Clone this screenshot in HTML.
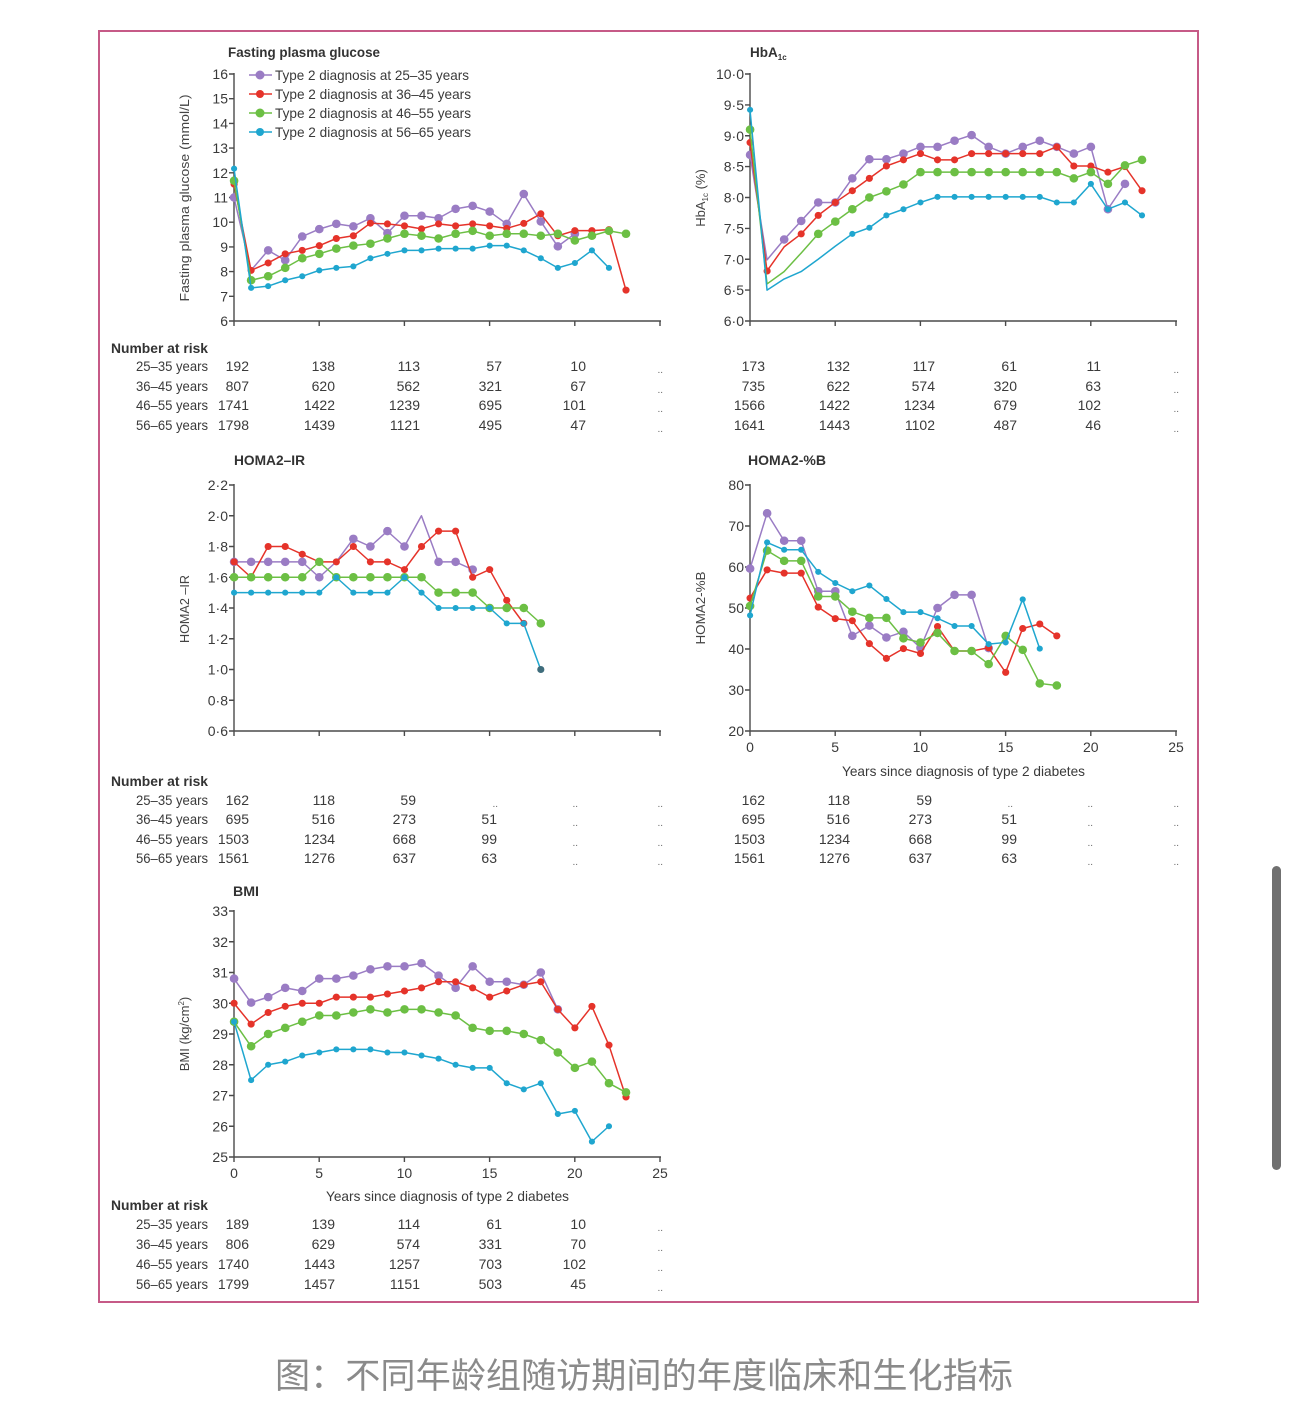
<!DOCTYPE html>
<html>
<head>
<meta charset="utf-8">
<style>
html,body{margin:0;padding:0;background:#fff;}
body{width:1290px;height:1414px;overflow:hidden;}
svg{display:block;}
text{font-family:"Liberation Sans",sans-serif;fill:#3a3a3a;}
.tk{font-size:14px;text-anchor:end;}
.xl{font-size:14px;text-anchor:middle;}
.n{font-size:14px;text-anchor:end;}
.rl{font-size:14px;text-anchor:end;}
.dd{font-size:10px;text-anchor:end;fill:#666;}
.tt{font-size:13.5px;font-weight:bold;fill:#333;}
.nr{font-size:14px;font-weight:bold;fill:#333;}
.yl{font-size:13px;text-anchor:middle;fill:#444;}
.ax{stroke:#4a4a4a;stroke-width:1.4;fill:none;}
.ln{fill:none;stroke-width:1.5;vector-effect:non-scaling-stroke;stroke-linejoin:round;}
.dt{fill:none;stroke-linecap:round;vector-effect:non-scaling-stroke;}
.p{stroke:#9a7cc4;} .r{stroke:#e5332a;} .g{stroke:#6cbf44;} .c{stroke:#1fa6cf;}
.dt.p{stroke-width:8.5;} .dt.g{stroke-width:8.5;} .dt.r{stroke-width:7;} .dt.c{stroke-width:6;}
</style>
</head>
<body>
<svg width="1290" height="1414" viewBox="0 0 1290 1414" xmlns="http://www.w3.org/2000/svg">
<rect x="0" y="0" width="1290" height="1414" fill="#fff"/>
<!-- frame -->
<rect x="99" y="31" width="1099" height="1271" fill="none" stroke="#c65a87" stroke-width="2"/>
<!-- scrollbar -->
<rect x="1272" y="866" width="9" height="304" rx="4.5" fill="#707070"/>

<!-- ============ FPG ============ -->
<text class="tt" x="228" y="57" textLength="152" lengthAdjust="spacingAndGlyphs">Fasting plasma glucose</text>
<text class="yl" transform="translate(189,198) rotate(-90)" textLength="207" lengthAdjust="spacingAndGlyphs">Fasting plasma glucose  (mmol/L)</text>
<path class="ax" d="M234 73V321H661M229 74H234M229 98.7H234M229 123.4H234M229 148.1H234M229 172.8H234M229 197.5H234M229 222.2H234M229 246.9H234M229 271.6H234M229 296.3H234M229 321H234M234 321V326M319.2 321V326M404.4 321V326M489.6 321V326M574.8 321V326M660 321V326"/>
<text class="tk" x="228" y="79">16</text>
<text class="tk" x="228" y="103.7">15</text>
<text class="tk" x="228" y="128.4">14</text>
<text class="tk" x="228" y="153.1">13</text>
<text class="tk" x="228" y="177.8">12</text>
<text class="tk" x="228" y="202.5">11</text>
<text class="tk" x="228" y="227.2">10</text>
<text class="tk" x="228" y="251.9">9</text>
<text class="tk" x="228" y="276.6">8</text>
<text class="tk" x="228" y="301.3">7</text>
<text class="tk" x="228" y="326">6</text>
<!-- legend -->
<line x1="249" y1="75" x2="272" y2="75" class="p" stroke-width="1.5"/><circle cx="260" cy="75" r="4.5" fill="#9a7cc4"/>
<line x1="249" y1="94" x2="272" y2="94" class="r" stroke-width="1.5"/><circle cx="260" cy="94" r="4" fill="#e5332a"/>
<line x1="249" y1="113" x2="272" y2="113" class="g" stroke-width="1.5"/><circle cx="260" cy="113" r="4.5" fill="#6cbf44"/>
<line x1="249" y1="132" x2="272" y2="132" class="c" stroke-width="1.5"/><circle cx="260" cy="132" r="4" fill="#1fa6cf"/>
<text x="275" y="80" font-size="14" textLength="194" lengthAdjust="spacingAndGlyphs">Type 2 diagnosis at 25–35 years</text>
<text x="275" y="99" font-size="14" textLength="196" lengthAdjust="spacingAndGlyphs">Type 2 diagnosis at 36–45 years</text>
<text x="275" y="118" font-size="14" textLength="196" lengthAdjust="spacingAndGlyphs">Type 2 diagnosis at 46–55 years</text>
<text x="275" y="137" font-size="14" textLength="196" lengthAdjust="spacingAndGlyphs">Type 2 diagnosis at 56–65 years</text>
<g transform="matrix(17.04 0 0 -24.7 234 469.2)">
<polyline class="ln p" points="0,11 1,8.05 2,8.86 3,8.46 4,9.42 5,9.72 6,9.93 7,9.83 8,10.16 9,9.56 10,10.26 11,10.26 12,10.16 13,10.54 14,10.66 15,10.43 16,9.93 17,11.14 18,10.03 19,9.02 20,9.53"/>
<path class="dt p" d="M0 11h.01M2 8.86h.01M3 8.46h.01M4 9.42h.01M5 9.72h.01M6 9.93h.01M7 9.83h.01M8 10.16h.01M9 9.56h.01M10 10.26h.01M11 10.26h.01M12 10.16h.01M13 10.54h.01M14 10.66h.01M15 10.43h.01M16 9.93h.01M17 11.14h.01M18 10.03h.01M19 9.02h.01M20 9.53h.01"/>
<polyline class="ln r" points="0,11.54 1,8.05 2,8.35 3,8.72 4,8.86 5,9.05 6,9.34 7,9.45 8,9.96 9,9.93 10,9.85 11,9.73 12,9.93 13,9.85 14,9.93 15,9.85 16,9.75 17,9.95 18,10.34 19,9.45 20,9.66 21,9.66 22,9.7 23,7.25"/>
<path class="dt r" d="M0 11.54h.01M1 8.05h.01M2 8.35h.01M3 8.72h.01M4 8.86h.01M5 9.05h.01M6 9.34h.01M7 9.45h.01M8 9.96h.01M9 9.93h.01M10 9.85h.01M11 9.73h.01M12 9.93h.01M13 9.85h.01M14 9.93h.01M15 9.85h.01M16 9.75h.01M17 9.95h.01M18 10.34h.01M19 9.45h.01M20 9.66h.01M21 9.66h.01M22 9.7h.01M23 7.25h.01"/>
<polyline class="ln g" points="0,11.68 1,7.65 2,7.81 3,8.15 4,8.54 5,8.72 6,8.93 7,9.05 8,9.13 9,9.34 10,9.53 11,9.45 12,9.34 13,9.53 14,9.65 15,9.45 16,9.53 17,9.53 18,9.45 19,9.53 20,9.26 21,9.45 22,9.65 23,9.53"/>
<path class="dt g" d="M0 11.68h.01M1 7.65h.01M2 7.81h.01M3 8.15h.01M4 8.54h.01M5 8.72h.01M6 8.93h.01M7 9.05h.01M8 9.13h.01M9 9.34h.01M10 9.53h.01M11 9.45h.01M12 9.34h.01M13 9.53h.01M14 9.65h.01M15 9.45h.01M16 9.53h.01M17 9.53h.01M18 9.45h.01M19 9.53h.01M20 9.26h.01M21 9.45h.01M22 9.65h.01M23 9.53h.01"/>
<polyline class="ln c" points="0,12.17 1,7.34 2,7.41 3,7.65 4,7.81 5,8.05 6,8.15 7,8.21 8,8.54 9,8.72 10,8.86 11,8.86 12,8.93 13,8.93 14,8.93 15,9.05 16,9.05 17,8.86 18,8.54 19,8.15 20,8.35 21,8.86 22,8.15"/>
<path class="dt c" d="M0 12.17h.01M1 7.34h.01M2 7.41h.01M3 7.65h.01M4 7.81h.01M5 8.05h.01M6 8.15h.01M7 8.21h.01M8 8.54h.01M9 8.72h.01M10 8.86h.01M11 8.86h.01M12 8.93h.01M13 8.93h.01M14 8.93h.01M15 9.05h.01M16 9.05h.01M17 8.86h.01M18 8.54h.01M19 8.15h.01M20 8.35h.01M21 8.86h.01M22 8.15h.01"/>
</g>

<!-- ============ HbA1c ============ -->
<text class="tt" x="750" y="57">HbA<tspan font-size="8" dy="3">1c</tspan></text>
<text class="yl" transform="translate(705,198) rotate(-90)">HbA<tspan font-size="8" dy="3">1c</tspan><tspan dy="-3"> (%)</tspan></text>
<path class="ax" d="M750 73V321H1177M745 74H750M745 104.9H750M745 135.75H750M745 166.6H750M745 197.5H750M745 228.4H750M745 259.25H750M745 290.1H750M745 321H750M750 321V326M835.2 321V326M920.4 321V326M1005.6 321V326M1090.8 321V326M1176 321V326"/>
<text class="tk" x="744" y="79">10·0</text>
<text class="tk" x="744" y="109.9">9·5</text>
<text class="tk" x="744" y="140.75">9·0</text>
<text class="tk" x="744" y="171.6">8·5</text>
<text class="tk" x="744" y="202.5">8·0</text>
<text class="tk" x="744" y="233.4">7·5</text>
<text class="tk" x="744" y="264.25">7·0</text>
<text class="tk" x="744" y="295.1">6·5</text>
<text class="tk" x="744" y="326">6·0</text>
<g transform="matrix(17.04 0 0 -61.75 750 691.5)">
<polyline class="ln p" points="0,8.69 1,6.99 2,7.32 3,7.62 4,7.92 5,7.92 6,8.31 7,8.62 8,8.62 9,8.71 10,8.82 11,8.82 12,8.92 13,9.01 14,8.82 15,8.71 16,8.82 17,8.92 18,8.82 19,8.71 20,8.82 21,7.81 22,8.22"/>
<path class="dt p" d="M0 8.69h.01M2 7.32h.01M3 7.62h.01M4 7.92h.01M5 7.92h.01M6 8.31h.01M7 8.62h.01M8 8.62h.01M9 8.71h.01M10 8.82h.01M11 8.82h.01M12 8.92h.01M13 9.01h.01M14 8.82h.01M15 8.71h.01M16 8.82h.01M17 8.92h.01M18 8.82h.01M19 8.71h.01M20 8.82h.01M21 7.81h.01M22 8.22h.01"/>
<polyline class="ln r" points="0,8.89 1,6.81 2,7.2 3,7.41 4,7.71 5,7.92 6,8.11 7,8.31 8,8.51 9,8.61 10,8.71 11,8.61 12,8.61 13,8.71 14,8.71 15,8.71 16,8.71 17,8.71 18,8.82 19,8.51 20,8.51 21,8.41 22,8.5 23,8.11"/>
<path class="dt r" d="M0 8.89h.01M1 6.81h.01M3 7.41h.01M4 7.71h.01M5 7.92h.01M6 8.11h.01M7 8.31h.01M8 8.51h.01M9 8.61h.01M10 8.71h.01M11 8.61h.01M12 8.61h.01M13 8.71h.01M14 8.71h.01M15 8.71h.01M16 8.71h.01M17 8.71h.01M18 8.82h.01M19 8.51h.01M20 8.51h.01M21 8.41h.01M22 8.5h.01M23 8.11h.01"/>
<polyline class="ln g" points="0,9.1 1,6.6 2,6.8 3,7.1 4,7.41 5,7.61 6,7.81 7,8.0 8,8.1 9,8.21 10,8.41 11,8.41 12,8.41 13,8.41 14,8.41 15,8.41 16,8.41 17,8.41 18,8.41 19,8.31 20,8.41 21,8.22 22,8.52 23,8.61"/>
<path class="dt g" d="M0 9.1h.01M4 7.41h.01M5 7.61h.01M6 7.81h.01M7 8.0h.01M8 8.1h.01M9 8.21h.01M10 8.41h.01M11 8.41h.01M12 8.41h.01M13 8.41h.01M14 8.41h.01M15 8.41h.01M16 8.41h.01M17 8.41h.01M18 8.41h.01M19 8.31h.01M20 8.41h.01M21 8.22h.01M22 8.52h.01M23 8.61h.01"/>
<polyline class="ln c" points="0,9.42 1,6.5 2,6.68 3,6.8 4,7.0 5,7.21 6,7.41 7,7.51 8,7.71 9,7.81 10,7.92 11,8.01 12,8.01 13,8.01 14,8.01 15,8.01 16,8.01 17,8.01 18,7.92 19,7.92 20,8.22 21,7.81 22,7.92 23,7.71"/>
<path class="dt c" d="M0 9.42h.01M6 7.41h.01M7 7.51h.01M8 7.71h.01M9 7.81h.01M10 7.92h.01M11 8.01h.01M12 8.01h.01M13 8.01h.01M14 8.01h.01M15 8.01h.01M16 8.01h.01M17 8.01h.01M18 7.92h.01M19 7.92h.01M20 8.22h.01M21 7.81h.01M22 7.92h.01M23 7.71h.01"/>
</g>

<!-- ============ Table 1 ============ -->
<text class="nr" x="111" y="353" textLength="97" lengthAdjust="spacingAndGlyphs">Number at risk</text>
<text class="rl" x="208" y="371" textLength="72" lengthAdjust="spacingAndGlyphs">25–35 years</text>
<text class="rl" x="208" y="391" textLength="72" lengthAdjust="spacingAndGlyphs">36–45 years</text>
<text class="rl" x="208" y="410" textLength="72" lengthAdjust="spacingAndGlyphs">46–55 years</text>
<text class="rl" x="208" y="430" textLength="72" lengthAdjust="spacingAndGlyphs">56–65 years</text>
<g>
<text class="n" x="249" y="371">192</text><text class="n" x="335" y="371">138</text><text class="n" x="420" y="371">113</text><text class="n" x="502" y="371">57</text><text class="n" x="586" y="371">10</text><text class="dd" x="663" y="373">..</text>
<text class="n" x="249" y="391">807</text><text class="n" x="335" y="391">620</text><text class="n" x="420" y="391">562</text><text class="n" x="502" y="391">321</text><text class="n" x="586" y="391">67</text><text class="dd" x="663" y="393">..</text>
<text class="n" x="249" y="410">1741</text><text class="n" x="335" y="410">1422</text><text class="n" x="420" y="410">1239</text><text class="n" x="502" y="410">695</text><text class="n" x="586" y="410">101</text><text class="dd" x="663" y="412">..</text>
<text class="n" x="249" y="430">1798</text><text class="n" x="335" y="430">1439</text><text class="n" x="420" y="430">1121</text><text class="n" x="502" y="430">495</text><text class="n" x="586" y="430">47</text><text class="dd" x="663" y="432">..</text>
</g>
<g>
<text class="n" x="765" y="371">173</text><text class="n" x="850" y="371">132</text><text class="n" x="935" y="371">117</text><text class="n" x="1017" y="371">61</text><text class="n" x="1101" y="371">11</text><text class="dd" x="1179" y="373">..</text>
<text class="n" x="765" y="391">735</text><text class="n" x="850" y="391">622</text><text class="n" x="935" y="391">574</text><text class="n" x="1017" y="391">320</text><text class="n" x="1101" y="391">63</text><text class="dd" x="1179" y="393">..</text>
<text class="n" x="765" y="410">1566</text><text class="n" x="850" y="410">1422</text><text class="n" x="935" y="410">1234</text><text class="n" x="1017" y="410">679</text><text class="n" x="1101" y="410">102</text><text class="dd" x="1179" y="412">..</text>
<text class="n" x="765" y="430">1641</text><text class="n" x="850" y="430">1443</text><text class="n" x="935" y="430">1102</text><text class="n" x="1017" y="430">487</text><text class="n" x="1101" y="430">46</text><text class="dd" x="1179" y="432">..</text>
</g>

<!-- ============ HOMA2-IR ============ -->
<text class="tt" x="234" y="465" textLength="71" lengthAdjust="spacingAndGlyphs">HOMA2–IR</text>
<text class="yl" transform="translate(189,609) rotate(-90)" textLength="68" lengthAdjust="spacingAndGlyphs">HOMA2 –IR</text>
<path class="ax" d="M234 484V731H661M229 485H234M229 515.75H234M229 546.5H234M229 577.25H234M229 608H234M229 638.75H234M229 669.5H234M229 700.25H234M229 731H234M234 731V736M319.2 731V736M404.4 731V736M489.6 731V736M574.8 731V736M660 731V736"/>
<text class="tk" x="228" y="490">2·2</text>
<text class="tk" x="228" y="520.75">2·0</text>
<text class="tk" x="228" y="551.5">1·8</text>
<text class="tk" x="228" y="582.25">1·6</text>
<text class="tk" x="228" y="613">1·4</text>
<text class="tk" x="228" y="643.75">1·2</text>
<text class="tk" x="228" y="674.5">1·0</text>
<text class="tk" x="228" y="705.25">0·8</text>
<text class="tk" x="228" y="736">0·6</text>
<g transform="matrix(17.04 0 0 -153.75 234 823.25)">
<polyline class="ln p" points="0,1.7 1,1.7 2,1.7 3,1.7 4,1.7 5,1.6 6,1.7 7,1.85 8,1.8 9,1.9 10,1.8 11,2.0 12,1.7 13,1.7 14,1.65"/>
<path class="dt p" d="M0 1.7h.01M1 1.7h.01M2 1.7h.01M3 1.7h.01M4 1.7h.01M5 1.6h.01M7 1.85h.01M8 1.8h.01M9 1.9h.01M10 1.8h.01M12 1.7h.01M13 1.7h.01M14 1.65h.01"/>
<polyline class="ln r" points="0,1.7 1,1.6 2,1.8 3,1.8 4,1.75 5,1.7 6,1.7 7,1.8 8,1.7 9,1.7 10,1.65 11,1.8 12,1.9 13,1.9 14,1.6 15,1.65 16,1.45 17,1.3"/>
<path class="dt r" d="M0 1.7h.01M1 1.6h.01M2 1.8h.01M3 1.8h.01M4 1.75h.01M5 1.7h.01M6 1.7h.01M7 1.8h.01M8 1.7h.01M9 1.7h.01M10 1.65h.01M11 1.8h.01M12 1.9h.01M13 1.9h.01M14 1.6h.01M15 1.65h.01M16 1.45h.01M17 1.3h.01"/>
<polyline class="ln g" points="0,1.6 1,1.6 2,1.6 3,1.6 4,1.6 5,1.7 6,1.6 7,1.6 8,1.6 9,1.6 10,1.6 11,1.6 12,1.5 13,1.5 14,1.5 15,1.4 16,1.4 17,1.4 18,1.3"/>
<path class="dt g" d="M0 1.6h.01M1 1.6h.01M2 1.6h.01M3 1.6h.01M4 1.6h.01M5 1.7h.01M6 1.6h.01M7 1.6h.01M8 1.6h.01M9 1.6h.01M10 1.6h.01M11 1.6h.01M12 1.5h.01M13 1.5h.01M14 1.5h.01M15 1.4h.01M16 1.4h.01M17 1.4h.01M18 1.3h.01"/>
<polyline class="ln c" points="0,1.5 1,1.5 2,1.5 3,1.5 4,1.5 5,1.5 6,1.6 7,1.5 8,1.5 9,1.5 10,1.6 11,1.5 12,1.4 13,1.4 14,1.4 15,1.4 16,1.3 17,1.3 18,1.0"/>
<path class="dt c" d="M0 1.5h.01M1 1.5h.01M2 1.5h.01M3 1.5h.01M4 1.5h.01M5 1.5h.01M6 1.6h.01M7 1.5h.01M8 1.5h.01M9 1.5h.01M10 1.6h.01M11 1.5h.01M12 1.4h.01M13 1.4h.01M14 1.4h.01M15 1.4h.01M16 1.3h.01M17 1.3h.01"/>
<path class="dt" style="stroke:#3f6d7c;stroke-width:7" d="M18 1.0h.01"/>
</g>

<!-- ============ HOMA2-%B ============ -->
<text class="tt" x="748" y="465" textLength="78" lengthAdjust="spacingAndGlyphs">HOMA2-%B</text>
<text class="yl" transform="translate(705,608) rotate(-90)" textLength="73" lengthAdjust="spacingAndGlyphs">HOMA2-%B</text>
<path class="ax" d="M750 484V731H1177M745 485H750M745 526H750M745 567H750M745 608H750M745 649H750M745 690H750M745 731H750M750 731V736M835.2 731V736M920.4 731V736M1005.6 731V736M1090.8 731V736M1176 731V736"/>
<text class="tk" x="744" y="490">80</text>
<text class="tk" x="744" y="531">70</text>
<text class="tk" x="744" y="572">60</text>
<text class="tk" x="744" y="613">50</text>
<text class="tk" x="744" y="654">40</text>
<text class="tk" x="744" y="695">30</text>
<text class="tk" x="744" y="736">20</text>
<text class="xl" x="750" y="752">0</text>
<text class="xl" x="835.2" y="752">5</text>
<text class="xl" x="920.4" y="752">10</text>
<text class="xl" x="1005.6" y="752">15</text>
<text class="xl" x="1090.8" y="752">20</text>
<text class="xl" x="1176" y="752">25</text>
<text x="842" y="776" font-size="14" textLength="243" lengthAdjust="spacingAndGlyphs">Years since diagnosis of type 2 diabetes</text>
<g transform="matrix(17.04 0 0 -4.1 750 813)">
<polyline class="ln p" points="0,59.6 1,73.1 2,66.4 3,66.4 4,54.1 5,54.1 6,43.2 7,45.7 8,42.8 9,44.2 10,40.3 11,50 12,53.2 13,53.2 14,40.2"/>
<path class="dt p" d="M0 59.6h.01M1 73.1h.01M2 66.4h.01M3 66.4h.01M4 54.1h.01M5 54.1h.01M6 43.2h.01M7 45.7h.01M8 42.8h.01M9 44.2h.01M10 40.3h.01M11 50h.01M12 53.2h.01M13 53.2h.01M14 40.2h.01"/>
<polyline class="ln r" points="0,52.4 1,59.3 2,58.5 3,58.5 4,50.2 5,47.4 6,46.9 7,41.3 8,37.7 9,40.1 10,38.9 11,45.5 12,39.5 13,39.5 14,40.3 15,34.3 16,45 17,46.1 18,43.2"/>
<path class="dt r" d="M0 52.4h.01M1 59.3h.01M2 58.5h.01M3 58.5h.01M4 50.2h.01M5 47.4h.01M6 46.9h.01M7 41.3h.01M8 37.7h.01M9 40.1h.01M10 38.9h.01M11 45.5h.01M12 39.5h.01M13 39.5h.01M14 40.3h.01M15 34.3h.01M16 45h.01M17 46.1h.01M18 43.2h.01"/>
<polyline class="ln g" points="0,50.5 1,64 2,61.5 3,61.5 4,52.8 5,52.8 6,49.1 7,47.6 8,47.6 9,42.6 10,41.6 11,43.9 12,39.5 13,39.5 14,36.3 15,43.2 16,39.8 17,31.6 18,31.1"/>
<path class="dt g" d="M0 50.5h.01M1 64h.01M2 61.5h.01M3 61.5h.01M4 52.8h.01M5 52.8h.01M6 49.1h.01M7 47.6h.01M8 47.6h.01M9 42.6h.01M10 41.6h.01M11 43.9h.01M12 39.5h.01M13 39.5h.01M14 36.3h.01M15 43.2h.01M16 39.8h.01M17 31.6h.01M18 31.1h.01"/>
<polyline class="ln c" points="0,48.2 1,66 2,64.2 3,64.2 4,58.8 5,56.1 6,54.1 7,55.5 8,52.2 9,49 10,49 11,47.5 12,45.6 13,45.6 14,41.2 15,41.6 16,52.1 17,40.1"/>
<path class="dt c" d="M0 48.2h.01M1 66h.01M2 64.2h.01M3 64.2h.01M4 58.8h.01M5 56.1h.01M6 54.1h.01M7 55.5h.01M8 52.2h.01M9 49h.01M10 49h.01M11 47.5h.01M12 45.6h.01M13 45.6h.01M14 41.2h.01M15 41.6h.01M16 52.1h.01M17 40.1h.01"/>
</g>

<!-- ============ Table 2 ============ -->
<text class="nr" x="111" y="786" textLength="97" lengthAdjust="spacingAndGlyphs">Number at risk</text>
<text class="rl" x="208" y="805" textLength="72" lengthAdjust="spacingAndGlyphs">25–35 years</text>
<text class="rl" x="208" y="824" textLength="72" lengthAdjust="spacingAndGlyphs">36–45 years</text>
<text class="rl" x="208" y="844" textLength="72" lengthAdjust="spacingAndGlyphs">46–55 years</text>
<text class="rl" x="208" y="863" textLength="72" lengthAdjust="spacingAndGlyphs">56–65 years</text>
<g>
<text class="n" x="249" y="805">162</text><text class="n" x="335" y="805">118</text><text class="n" x="416" y="805">59</text><text class="dd" x="498" y="807">..</text><text class="dd" x="578" y="807">..</text><text class="dd" x="663" y="807">..</text>
<text class="n" x="249" y="824">695</text><text class="n" x="335" y="824">516</text><text class="n" x="416" y="824">273</text><text class="n" x="497" y="824">51</text><text class="dd" x="578" y="826">..</text><text class="dd" x="663" y="826">..</text>
<text class="n" x="249" y="844">1503</text><text class="n" x="335" y="844">1234</text><text class="n" x="416" y="844">668</text><text class="n" x="497" y="844">99</text><text class="dd" x="578" y="846">..</text><text class="dd" x="663" y="846">..</text>
<text class="n" x="249" y="863">1561</text><text class="n" x="335" y="863">1276</text><text class="n" x="416" y="863">637</text><text class="n" x="497" y="863">63</text><text class="dd" x="578" y="865">..</text><text class="dd" x="663" y="865">..</text>
</g>
<g>
<text class="n" x="765" y="805">162</text><text class="n" x="850" y="805">118</text><text class="n" x="932" y="805">59</text><text class="dd" x="1013" y="807">..</text><text class="dd" x="1093" y="807">..</text><text class="dd" x="1179" y="807">..</text>
<text class="n" x="765" y="824">695</text><text class="n" x="850" y="824">516</text><text class="n" x="932" y="824">273</text><text class="n" x="1017" y="824">51</text><text class="dd" x="1093" y="826">..</text><text class="dd" x="1179" y="826">..</text>
<text class="n" x="765" y="844">1503</text><text class="n" x="850" y="844">1234</text><text class="n" x="932" y="844">668</text><text class="n" x="1017" y="844">99</text><text class="dd" x="1093" y="846">..</text><text class="dd" x="1179" y="846">..</text>
<text class="n" x="765" y="863">1561</text><text class="n" x="850" y="863">1276</text><text class="n" x="932" y="863">637</text><text class="n" x="1017" y="863">63</text><text class="dd" x="1093" y="865">..</text><text class="dd" x="1179" y="865">..</text>
</g>

<!-- ============ BMI ============ -->
<text class="tt" x="233" y="896" textLength="26" lengthAdjust="spacingAndGlyphs">BMI</text>
<text class="yl" transform="translate(189,1034) rotate(-90)">BMI (kg/cm<tspan font-size="8" dy="-5">2</tspan><tspan dy="5">)</tspan></text>
<path class="ax" d="M234 910V1157H661M229 911H234M229 941.75H234M229 972.5H234M229 1003.25H234M229 1034H234M229 1064.75H234M229 1095.5H234M229 1126.25H234M229 1157H234M234 1157V1162M319.2 1157V1162M404.4 1157V1162M489.6 1157V1162M574.8 1157V1162M660 1157V1162"/>
<text class="tk" x="228" y="916">33</text>
<text class="tk" x="228" y="946.75">32</text>
<text class="tk" x="228" y="977.5">31</text>
<text class="tk" x="228" y="1008.25">30</text>
<text class="tk" x="228" y="1039">29</text>
<text class="tk" x="228" y="1069.75">28</text>
<text class="tk" x="228" y="1100.5">27</text>
<text class="tk" x="228" y="1131.25">26</text>
<text class="tk" x="228" y="1162">25</text>
<text class="xl" x="234" y="1178">0</text>
<text class="xl" x="319.2" y="1178">5</text>
<text class="xl" x="404.4" y="1178">10</text>
<text class="xl" x="489.6" y="1178">15</text>
<text class="xl" x="574.8" y="1178">20</text>
<text class="xl" x="660" y="1178">25</text>
<text x="326" y="1201" font-size="14" textLength="243" lengthAdjust="spacingAndGlyphs">Years since diagnosis of type 2 diabetes</text>
<g transform="matrix(17.04 0 0 -30.75 234 1925.75)">
<polyline class="ln p" points="0,30.8 1,30.02 2,30.2 3,30.5 4,30.4 5,30.8 6,30.8 7,30.9 8,31.1 9,31.2 10,31.2 11,31.3 12,30.9 13,30.5 14,31.2 15,30.7 16,30.7 17,30.6 18,31.0 19,29.8"/>
<path class="dt p" d="M0 30.8h.01M1 30.02h.01M2 30.2h.01M3 30.5h.01M4 30.4h.01M5 30.8h.01M6 30.8h.01M7 30.9h.01M8 31.1h.01M9 31.2h.01M10 31.2h.01M11 31.3h.01M12 30.9h.01M13 30.5h.01M14 31.2h.01M15 30.7h.01M16 30.7h.01M17 30.6h.01M18 31.0h.01M19 29.8h.01"/>
<polyline class="ln r" points="0,30.0 1,29.32 2,29.7 3,29.9 4,30.0 5,30.0 6,30.2 7,30.2 8,30.2 9,30.3 10,30.4 11,30.5 12,30.7 13,30.7 14,30.5 15,30.2 16,30.4 17,30.6 18,30.7 19,29.8 20,29.2 21,29.9 22,28.64 23,26.95"/>
<path class="dt r" d="M0 30.0h.01M1 29.32h.01M2 29.7h.01M3 29.9h.01M4 30.0h.01M5 30.0h.01M6 30.2h.01M7 30.2h.01M8 30.2h.01M9 30.3h.01M10 30.4h.01M11 30.5h.01M12 30.7h.01M13 30.7h.01M14 30.5h.01M15 30.2h.01M16 30.4h.01M17 30.6h.01M18 30.7h.01M19 29.8h.01M20 29.2h.01M21 29.9h.01M22 28.64h.01M23 26.95h.01"/>
<polyline class="ln g" points="0,29.4 1,28.6 2,29.0 3,29.2 4,29.4 5,29.6 6,29.6 7,29.7 8,29.8 9,29.7 10,29.8 11,29.8 12,29.7 13,29.6 14,29.2 15,29.1 16,29.1 17,29.0 18,28.8 19,28.4 20,27.9 21,28.1 22,27.4 23,27.1"/>
<path class="dt g" d="M0 29.4h.01M1 28.6h.01M2 29.0h.01M3 29.2h.01M4 29.4h.01M5 29.6h.01M6 29.6h.01M7 29.7h.01M8 29.8h.01M9 29.7h.01M10 29.8h.01M11 29.8h.01M12 29.7h.01M13 29.6h.01M14 29.2h.01M15 29.1h.01M16 29.1h.01M17 29.0h.01M18 28.8h.01M19 28.4h.01M20 27.9h.01M21 28.1h.01M22 27.4h.01M23 27.1h.01"/>
<polyline class="ln c" points="0,29.4 1,27.5 2,28.0 3,28.1 4,28.3 5,28.4 6,28.5 7,28.5 8,28.5 9,28.4 10,28.4 11,28.3 12,28.2 13,28.0 14,27.9 15,27.9 16,27.4 17,27.2 18,27.4 19,26.4 20,26.5 21,25.5 22,26.0"/>
<path class="dt c" d="M0 29.4h.01M1 27.5h.01M2 28.0h.01M3 28.1h.01M4 28.3h.01M5 28.4h.01M6 28.5h.01M7 28.5h.01M8 28.5h.01M9 28.4h.01M10 28.4h.01M11 28.3h.01M12 28.2h.01M13 28.0h.01M14 27.9h.01M15 27.9h.01M16 27.4h.01M17 27.2h.01M18 27.4h.01M19 26.4h.01M20 26.5h.01M21 25.5h.01M22 26.0h.01"/>
</g>

<!-- ============ Table 3 ============ -->
<text class="nr" x="111" y="1210" textLength="97" lengthAdjust="spacingAndGlyphs">Number at risk</text>
<text class="rl" x="208" y="1229" textLength="72" lengthAdjust="spacingAndGlyphs">25–35 years</text>
<text class="rl" x="208" y="1249" textLength="72" lengthAdjust="spacingAndGlyphs">36–45 years</text>
<text class="rl" x="208" y="1269" textLength="72" lengthAdjust="spacingAndGlyphs">46–55 years</text>
<text class="rl" x="208" y="1289" textLength="72" lengthAdjust="spacingAndGlyphs">56–65 years</text>
<g>
<text class="n" x="249" y="1229">189</text><text class="n" x="335" y="1229">139</text><text class="n" x="420" y="1229">114</text><text class="n" x="502" y="1229">61</text><text class="n" x="586" y="1229">10</text><text class="dd" x="663" y="1231">..</text>
<text class="n" x="249" y="1249">806</text><text class="n" x="335" y="1249">629</text><text class="n" x="420" y="1249">574</text><text class="n" x="502" y="1249">331</text><text class="n" x="586" y="1249">70</text><text class="dd" x="663" y="1251">..</text>
<text class="n" x="249" y="1269">1740</text><text class="n" x="335" y="1269">1443</text><text class="n" x="420" y="1269">1257</text><text class="n" x="502" y="1269">703</text><text class="n" x="586" y="1269">102</text><text class="dd" x="663" y="1271">..</text>
<text class="n" x="249" y="1289">1799</text><text class="n" x="335" y="1289">1457</text><text class="n" x="420" y="1289">1151</text><text class="n" x="502" y="1289">503</text><text class="n" x="586" y="1289">45</text><text class="dd" x="663" y="1291">..</text>
</g>

<!-- caption -->
<text x="275" y="1388" font-size="35" textLength="738" lengthAdjust="spacingAndGlyphs" style="font-family:'Liberation Sans','Noto Sans CJK SC',sans-serif;fill:#8a8a8a;">图：不同年龄组随访期间的年度临床和生化指标</text>
</svg>
</body>
</html>
